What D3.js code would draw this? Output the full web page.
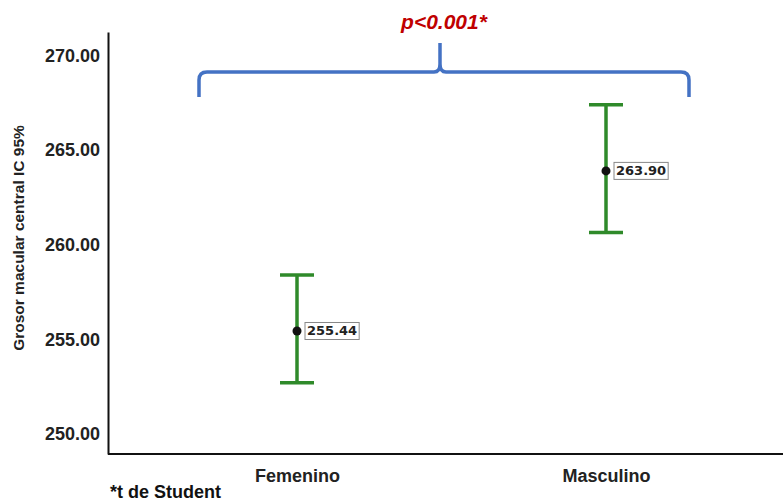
<!DOCTYPE html>
<html>
<head>
<meta charset="utf-8">
<script src="https://cdn.jsdelivr.net/npm/d3@7"></script>
<style>
  body { margin: 0; background: #fff; }
  svg { display: block; }
  text { font-family: "Liberation Sans", Arial, sans-serif; }
</style>
</head>
<body>
<svg id="chart" width="783" height="502"></svg>
<script>
// Mean central macular thickness with 95% CI, by sex
const categories = ["Femenino", "Masculino"];
const means = [255.44, 263.90];
const ciLower = [252.70, 260.65];
const ciUpper = [258.40, 267.40];
const yTicks = [250, 255, 260, 265, 270];
const pLabel = "p<0.001*";
const footnote = "*t de Student";
const yTitle = "Grosor macular central IC 95%";

const svg = d3.select("#chart");
const mLeft = 108, mRight = 783, mTop = 32, mBottom = 454;

const y = d3.scaleLinear().domain([248.94, 271.24]).range([mBottom, mTop]);
const x = d3.scalePoint().domain(categories).range([297, 606]);

// axes
const yAxis = d3.axisLeft(y).tickValues(yTicks).tickSize(0).tickPadding(8).tickFormat(d3.format(".2f"));
const gy = svg.append("g").attr("transform", `translate(${mLeft},0)`).call(yAxis);
gy.select(".domain").attr("stroke", "#111").attr("stroke-width", 2);
gy.selectAll("text").attr("font-size", 18).attr("font-weight", "bold").attr("fill", "#222")
  .style("font-family", "'Liberation Sans', Arial, sans-serif");

const xAxis = d3.axisBottom(x).tickSize(0).tickPadding(15);
const gx = svg.append("g").attr("transform", `translate(0,${mBottom})`).call(xAxis);
gx.select(".domain").attr("d", `M${mLeft},0H${mRight}`).attr("stroke", "#111").attr("stroke-width", 2);
gx.selectAll("text").attr("font-size", 18).attr("font-weight", "bold").attr("fill", "#222")
  .style("font-family", "'Liberation Sans', Arial, sans-serif");

// y title
svg.append("text")
  .attr("transform", `translate(24,238) rotate(-90)`)
  .attr("text-anchor", "middle")
  .attr("font-size", 15.5).attr("font-weight", "bold").attr("fill", "#222")
  .text(yTitle);

// error bars
const green = "#2f8a2a";
const capHalf = 17;
const bars = svg.append("g").selectAll("g").data(categories).join("g");
bars.append("line")
  .attr("x1", d => x(d)).attr("x2", d => x(d))
  .attr("y1", (d, i) => y(ciUpper[i])).attr("y2", (d, i) => y(ciLower[i]))
  .attr("stroke", green).attr("stroke-width", 3.5);
bars.append("line")
  .attr("x1", d => x(d) - capHalf).attr("x2", d => x(d) + capHalf)
  .attr("y1", (d, i) => y(ciUpper[i])).attr("y2", (d, i) => y(ciUpper[i]))
  .attr("stroke", green).attr("stroke-width", 3.5);
bars.append("line")
  .attr("x1", d => x(d) - capHalf).attr("x2", d => x(d) + capHalf)
  .attr("y1", (d, i) => y(ciLower[i])).attr("y2", (d, i) => y(ciLower[i]))
  .attr("stroke", green).attr("stroke-width", 3.5);
bars.append("circle")
  .attr("cx", d => x(d)).attr("cy", (d, i) => y(means[i])).attr("r", 4.5)
  .attr("fill", "#111");

// value labels
bars.each(function (d, i) {
  const g = d3.select(this);
  const t = g.append("text")
    .attr("x", x(d) + 10).attr("y", y(means[i]) + 4.5)
    .attr("font-size", 13).attr("font-weight", "bold").attr("fill", "#222")
    .style("font-family", "'DejaVu Sans', sans-serif")
    .text(means[i].toFixed(2));
  const bb = t.node().getBBox();
  g.insert("rect", "text")
    .attr("x", bb.x - 2).attr("y", bb.y - 1)
    .attr("width", bb.width + 4).attr("height", bb.height + 2)
    .attr("fill", "#fff").attr("stroke", "#888").attr("stroke-width", 1);
});

// significance brace
const bx0 = 199, bx1 = 689, bmid = 440, byTop = 72, byEnd = 97, byPeak = 43;
const r = 8;
const brace = `M${bx0},${byEnd} L${bx0},${byTop + r} Q${bx0},${byTop} ${bx0 + r},${byTop} ` +
  `L${bmid - 6},${byTop} Q${bmid},${byTop} ${bmid},${byTop - 8} L${bmid},${byPeak} ` +
  `M${bmid},${byTop - 8} Q${bmid},${byTop} ${bmid + 6},${byTop} ` +
  `L${bx1 - r},${byTop} Q${bx1},${byTop} ${bx1},${byTop + r} L${bx1},${byEnd}`;
svg.append("path").attr("d", brace).attr("fill", "none")
  .attr("stroke", "#4472c4").attr("stroke-width", 3.5).attr("stroke-linejoin", "round");

svg.append("text")
  .attr("x", 444).attr("y", 29).attr("text-anchor", "middle")
  .attr("font-size", 21).attr("font-weight", "bold").attr("font-style", "italic")
  .attr("fill", "#c00000")
  .text(pLabel);

// footnote
svg.append("text")
  .attr("x", 110).attr("y", 498)
  .attr("font-size", 18).attr("font-weight", "bold").attr("fill", "#111")
  .text(footnote);
</script>
</body>
</html>
